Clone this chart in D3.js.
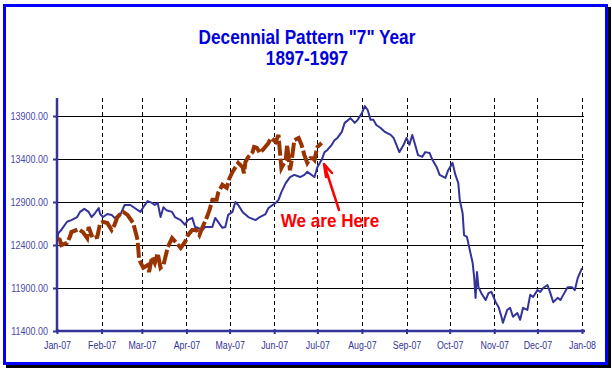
<!DOCTYPE html>
<html>
<head>
<meta charset="utf-8">
<script src="https://cdn.jsdelivr.net/npm/d3@7"></script>
<style>
  body { margin: 0; background: #fff; }
  svg { display: block; }
  text { font-family: "Liberation Sans", Arial, sans-serif; }
</style>
</head>
<body>
<script>
// average decennial "7" year (1897-1997), day of year -> Dow level
var histDays = [0, 1, 3, 7, 10, 14, 16, 19, 22, 24, 26, 29, 30, 32, 35, 38, 40, 44, 47, 51, 54, 58,
  60, 63, 66, 68, 70, 72, 74, 76, 80, 82, 86, 89, 91, 94, 96, 98, 101, 103, 108, 110, 112, 115, 117,
  119, 122, 124, 126, 129, 133, 138, 141, 145, 147, 152, 154, 156, 159, 162, 165, 169, 172, 174, 179,
  181, 184, 186, 188, 191, 193, 195, 198, 200, 204, 207, 209, 212, 214, 216, 218, 220, 222, 225, 228,
  232, 234, 236, 238, 241, 243, 245, 247, 249, 251, 254, 256, 259, 261, 264, 266, 270, 272, 275, 277,
  279, 280, 282, 283, 285, 287, 289, 290, 291, 292, 293, 295, 298, 300, 302, 305, 307, 309, 310, 313,
  315, 317, 320, 322, 324, 327, 329, 331, 334, 336, 338, 341, 343, 345, 348, 350, 352, 355, 358, 360,
  362, 365];
var histValues = [12460, 12540, 12575, 12670, 12690, 12725, 12785, 12820, 12785, 12725, 12760, 12830,
  12760, 12725, 12760, 12750, 12715, 12750, 12865, 12865, 12830, 12785, 12840, 12910, 12890, 12865,
  12890, 12725, 12840, 12805, 12785, 12725, 12690, 12635, 12690, 12715, 12610, 12600, 12575, 12610,
  12610, 12715, 12670, 12600, 12610, 12750, 12785, 12900, 12865, 12785, 12725, 12690, 12725, 12760,
  12830, 12890, 12925, 13015, 13120, 13190, 13215, 13190, 13215, 13250, 13190, 13305, 13390, 13480,
  13505, 13565, 13620, 13645, 13715, 13820, 13875, 13820, 13855, 13935, 14015, 13970, 13855, 13855,
  13795, 13760, 13715, 13680, 13645, 13565, 13480, 13565, 13645, 13565, 13680, 13565, 13445, 13425,
  13480, 13470, 13390, 13305, 13215, 13180, 13270, 13355, 13215, 13120, 12925, 12770, 12515, 12495,
  12340, 12190, 12030, 11785, 12085, 11910, 11840, 11760, 11840, 11855, 11735, 11680, 11565, 11495,
  11645, 11670, 11565, 11610, 11530, 11670, 11645, 11820, 11795, 11875, 11855, 11900, 11935, 11840,
  11735, 11785, 11760, 11820, 11910, 11910, 11875, 12015, 12130];

// 2007 so far
var curDays = [0, 2, 3, 7, 9, 10, 15, 18, 21, 22, 24, 25, 28, 30, 32, 35, 38, 40, 42, 44, 46, 49, 53,
  56, 57, 58, 60, 63, 64, 66, 68, 70, 72, 74, 77, 80, 83, 86, 89, 91, 94, 97, 99, 101, 104, 106, 108,
  111, 112, 115, 118, 120, 122, 126, 129, 130, 131, 133, 136, 137, 139, 141, 143, 147, 148, 149, 152,
  154, 155, 156, 159, 160, 162, 163, 165, 168, 170, 172, 174, 176, 178, 179, 181, 184];
var curValues = [12480, 12460, 12400, 12425, 12495, 12550, 12585, 12550, 12480, 12610, 12515, 12480,
  12495, 12655, 12670, 12655, 12575, 12635, 12725, 12760, 12785, 12750, 12655, 12460, 12250, 12200,
  12135, 12165, 12085, 12260, 12190, 12305, 12135, 12165, 12375, 12480, 12425, 12365, 12435, 12515,
  12575, 12575, 12515, 12600, 12715, 12805, 12925, 12925, 13005, 13100, 13065, 13180, 13250, 13355,
  13305, 13235, 13365, 13425, 13480, 13540, 13530, 13470, 13505, 13585, 13620, 13645, 13600, 13680,
  13480, 13295, 13390, 13565, 13270, 13365, 13620, 13645, 13565, 13445, 13355, 13410, 13410, 13390,
  13540, 13585];

var yTicks = [11400, 11900, 12400, 12900, 13400, 13900];
var titleLines = ['Decennial Pattern "7" Year', "1897-1997"];
var note = "We are Here";

var w = 612, h = 371;
var start = new Date(2007, 0, 1);

// the original uses a narrow face, so squeeze the text horizontally
function squeeze(sel, k) {
    sel.each(function() {
        var len = this.getComputedTextLength();
        d3.select(this).attr("textLength", len * k).attr("lengthAdjust", "spacingAndGlyphs");
    });
}

var svg = d3.select("body").append("svg")
    .attr("width", w)
    .attr("height", h);

// frame with a dark shadow
svg.append("rect").attr("x", 7.5).attr("y", 8.5).attr("width", 602).attr("height", 358)
    .attr("fill", "none").attr("stroke", "#000").attr("stroke-width", 3);
svg.append("rect").attr("x", 4.5).attr("y", 5.5).attr("width", 602).attr("height", 358)
    .attr("fill", "#fff").attr("stroke", "#0000ff").attr("stroke-width", 3);

svg.selectAll("text.title")
  .data(titleLines)
  .enter()
    .append("text")
    .attr("class", "title")
    .attr("x", 307)
    .attr("y", function(d, i) { return 44 + i * 21; })
    .attr("text-anchor", "middle")
    .attr("font-size", "20px")
    .attr("font-weight", "bold")
    .attr("fill", "#0000dd")
    .text(function(d) { return d; })
    .call(squeeze, 0.86);

var x = d3.scaleTime()
    .domain([start, new Date(2008, 0, 1)])
    .range([57, 582]);
var y = d3.scaleLinear()
    .domain([11400, 13900])
    .range([331, 116]);

// horizontal grid
svg.append("g")
  .selectAll("line")
  .data(yTicks.slice(1))
  .enter()
    .append("line")
    .attr("x1", 57).attr("x2", 584)
    .attr("y1", function(d) { return Math.round(y(d)) + 0.5; })
    .attr("y2", function(d) { return Math.round(y(d)) + 0.5; })
    .attr("stroke", "#000");

// vertical dashed grid, one per month
var months = d3.timeMonth.range(new Date(2007, 1, 1), new Date(2008, 0, 2));
svg.append("g")
  .selectAll("line")
  .data(months)
  .enter()
    .append("line")
    .attr("x1", function(d) { return Math.round(x(d)) + 0.5; })
    .attr("x2", function(d) { return Math.round(x(d)) + 0.5; })
    .attr("y1", 98).attr("y2", 331)
    .attr("stroke", "#000")
    .attr("stroke-dasharray", "4,3");

var line = d3.line()
    .x(function(d) { return x(d3.timeDay.offset(start, d[0])); })
    .y(function(d) { return y(d[1]); });

var hist = d3.zip(histDays, histValues);
var cur = d3.zip(curDays, curValues);

svg.append("path")
    .datum(hist)
    .attr("d", line)
    .attr("fill", "none")
    .attr("stroke", "#333399")
    .attr("stroke-width", 2)
    .attr("stroke-linejoin", "round");

svg.append("path")
    .datum(cur)
    .attr("d", line)
    .attr("fill", "none")
    .attr("stroke", "#993300")
    .attr("stroke-width", 4)
    .attr("stroke-dasharray", "15,3");

// axes
var axisColor = "#333399";

var yAxis = svg.append("g")
    .attr("transform", "translate(57,0)")
    .call(d3.axisLeft(y).tickValues(yTicks).tickFormat(d3.format(".2f")).tickSize(4).tickPadding(5));
yAxis.select(".domain").remove();
yAxis.selectAll("line").attr("stroke", axisColor).attr("stroke-width", 2);
yAxis.selectAll("text").attr("font-size", "10px").attr("fill", "#4848a8").attr("font-family", null)
    .call(squeeze, 0.9);

var xAxis = svg.append("g")
    .attr("transform", "translate(0,331)")
    .call(d3.axisBottom(x).ticks(d3.timeMonth.every(1)).tickFormat(d3.timeFormat("%b-%y")).tickSize(3).tickPadding(8));
xAxis.select(".domain").remove();
xAxis.selectAll("line").attr("stroke", axisColor).attr("stroke-width", 2).attr("y1", -2);
xAxis.selectAll("text").attr("font-size", "10.5px").attr("fill", "#333399").attr("font-family", null)
    .call(squeeze, 0.84);

svg.append("line")
    .attr("x1", 57).attr("x2", 57).attr("y1", 98).attr("y2", 332)
    .attr("stroke", axisColor).attr("stroke-width", 2.5);
svg.append("line")
    .attr("x1", 56).attr("x2", 585).attr("y1", 331).attr("y2", 331)
    .attr("stroke", axisColor).attr("stroke-width", 2.5);

// annotation
svg.append("text")
    .attr("x", 330)
    .attr("y", 227)
    .attr("text-anchor", "middle")
    .attr("font-size", "19px")
    .attr("font-weight", "bold")
    .attr("fill", "#ff0000")
    .text(note)
    .call(squeeze, 0.9);

svg.append("path")
    .attr("d", "M339,210 L324,164 M324,164 L326,177 M324,164 L332,173")
    .attr("fill", "none")
    .attr("stroke", "#ff0000")
    .attr("stroke-width", 2.5)
    .attr("stroke-linecap", "round");
</script>
</body>
</html>
